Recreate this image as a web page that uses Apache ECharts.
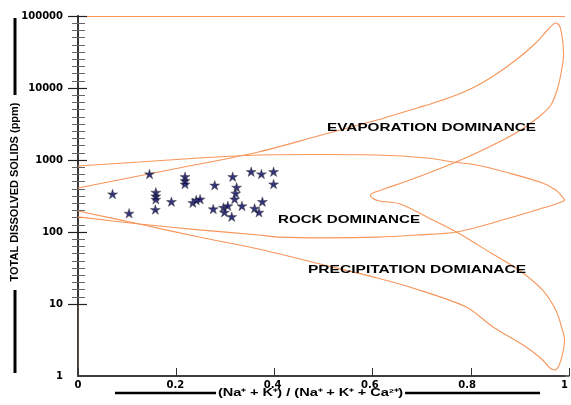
<!DOCTYPE html>
<html>
<head>
<meta charset="utf-8">
<script src="https://cdn.jsdelivr.net/npm/echarts@6/dist/echarts.min.js"></script>
<style>
html,body{margin:0;padding:0;background:#fff;}
#chart{width:571px;height:405px;}
</style>
</head>
<body>
<div id="chart"></div>
<script>
// ---- data ----
const xTickLabels = ['0', '0.2', '0.4', '0.6', '0.8', '1'];

// sample points: (Na+K)/(Na+K+Ca) and TDS (ppm)
const sampleRatio = [0.071, 0.105, 0.147, 0.160, 0.160, 0.160, 0.159, 0.220, 0.220, 0.220, 0.192, 0.236, 0.243, 0.251, 0.281, 0.278,
  0.318, 0.326, 0.324, 0.322, 0.299, 0.308, 0.301, 0.316, 0.337, 0.356, 0.377, 0.402, 0.402, 0.379, 0.363, 0.372];
const sampleTDS = [337, 182, 639, 356, 316, 284, 205, 586, 516, 464, 264, 255, 278, 286, 447, 209,
  586, 418, 345, 287, 219, 231, 188, 163, 230, 688, 639, 688, 464, 264, 213, 188];

// rock dominance envelope (lens)
const rockEnvelope = [
  [0, 826], [0.126, 937], [0.249, 1066], [0.371, 1172], [0.493, 1190], [0.615, 1172], [0.717, 1066],
  [0.772, 937], [0.819, 853], [0.886, 659], [0.955, 479], [0.982, 383], [0.996, 306], [1.0, 278],
  [0.988, 253], [0.955, 215], [0.886, 156], [0.778, 100], [0.697, 91], [0.615, 85], [0.513, 83],
  [0.411, 85], [0.371, 91], [0.249, 107], [0.126, 129], [0, 162]
];

// evaporation / precipitation boundary (boomerang)
const gibbsBoundary = [
  [0, 409], [0.187, 726], [0.371, 1292], [0.493, 2154], [0.615, 3594], [0.656, 4355], [0.697, 5275],
  [0.737, 6390], [0.778, 8000], [0.819, 10660], [0.860, 15650], [0.900, 24480], [0.941, 42170],
  [0.965, 63900], [0.982, 79950], [0.990, 72600], [0.996, 46400], [0.998, 28750], [0.994, 17780],
  [0.986, 10000], [0.972, 5805], [0.947, 3955], [0.900, 2371], [0.819, 1251], [0.752, 800], [0.682, 527],
  [0.635, 409], [0.611, 359], [0.601, 327], [0.605, 297], [0.619, 270], [0.662, 245], [0.717, 162],
  [0.778, 100], [0.849, 51], [0.906, 29.7], [0.955, 15.6], [0.982, 8.26], [0.994, 4.8], [1.0, 3.16],
  [0.996, 2.02], [0.988, 1.38], [0.980, 1.21], [0.970, 1.29], [0.955, 1.67], [0.921, 2.53], [0.853, 4.8],
  [0.798, 9.09], [0.682, 17.2], [0.615, 23], [0.493, 36.5], [0.371, 58], [0.249, 85], [0.126, 129], [0, 196]
];

// ---- rendering ----
const ORANGE = '#F7955A';
const LABEL_FONT = '"Liberation Sans", Arial, sans-serif';
const STAR = 'path://M50,0L61.2,34.6L97.6,34.5L68.1,55.9L79.4,90.5L50,69L20.6,90.5L31.9,55.9L2.4,34.5L38.8,34.6Z';
const TICK_MAJOR = '#222';
const TICK_MINOR = '#666';

const measureCtx = document.createElement('canvas').getContext('2d');
function textWidth(t, size) {
  measureCtx.font = 'bold ' + size + 'px ' + LABEL_FONT;
  return measureCtx.measureText(t).width;
}
function stretchedText(t, cx, cy, target, size) {
  const w = textWidth(t, size);
  return {
    type: 'text', x: cx, y: cy, scaleX: target / w, z: 10,
    style: {
      text: t, fill: '#000', fontSize: size, fontWeight: 'bold', fontFamily: LABEL_FONT,
      align: 'center', verticalAlign: 'middle', textAlign: 'center', textVerticalAlign: 'middle'
    }
  };
}

const chart = echarts.init(document.getElementById('chart'));

// tick-only linear axis (in decades, 10 .. 100000) giving evenly spaced ticks as in the reference
function tickAxis(inside, majorLen, minorLen) {
  return {
    type: 'value', gridIndex: 1, position: 'left', offset: 0, min: 1, max: 5, interval: 1,
    axisLine: { show: true, lineStyle: { color: '#333', width: 1.5 } }, axisLabel: { show: false },
    splitLine: { show: false },
    axisTick: { show: true, inside: inside, length: majorLen, lineStyle: { color: TICK_MAJOR, width: 1.2 } },
    minorTick: { show: true, splitNumber: 10, length: minorLen, lineStyle: { color: TICK_MINOR, width: 1 } }
  };
}

const option = {
  animation: false,
  grid: [
    { left: 78, top: 16, width: 491, height: 360 },
    { left: 78, top: 16, width: 491, height: 288 },
    { left: 78, top: 304, width: 491, height: 72 }
  ],
  xAxis: [
    {
      type: 'value', min: 0, max: 1, interval: 0.2, position: 'bottom',
      axisLine: { show: true, lineStyle: { color: '#333', width: 1.5 } },
      axisTick: { show: false },
      axisLabel: {
        color: '#000', fontFamily: 'DejaVu Sans', fontWeight: 'bold', fontSize: 10, margin: 4,
        formatter: function (v) { return xTickLabels[Math.round(v * 5)]; }
      },
      splitLine: { show: false }
    },
    {
      type: 'value', min: 0, max: 1, position: 'top',
      axisLine: { show: true, lineStyle: { color: ORANGE, width: 1 } },
      axisTick: { show: false }, axisLabel: { show: false }, splitLine: { show: false }
    },
    { type: 'value', gridIndex: 1, min: 0, max: 1, show: false },
    {
      type: 'value', gridIndex: 2, min: 0, max: 1, interval: 0.2, position: 'bottom',
      axisLine: { show: true, lineStyle: { color: '#333', width: 1.5 } },
      axisTick: { show: true, inside: true, length: 8, lineStyle: { color: '#333', width: 1 } },
      axisLabel: { show: false }, splitLine: { show: false }
    }
  ],
  yAxis: [
    {
      type: 'log', logBase: 10, min: 1, max: 100000, position: 'left',
      splitLine: { show: false },
      axisLine: { show: true, lineStyle: { color: '#333', width: 1.5 } },
      axisTick: { show: false },
      axisLabel: {
        color: '#000', fontFamily: 'DejaVu Sans', fontWeight: 'bold', fontSize: 10, margin: 15,
        formatter: function (v) { return String(Math.round(v)); }
      }
    },
    {
      type: 'value', min: 0, max: 1, position: 'right',
      axisLine: { show: true, lineStyle: { color: ORANGE, width: 1 } },
      axisTick: { show: false }, axisLabel: { show: false }, splitLine: { show: false }
    },
    tickAxis(false, 10, 6),
    tickAxis(true, 9, 7),
    {
      type: 'value', gridIndex: 2, min: 0, max: 1, position: 'left',
      axisLine: { show: true, lineStyle: { color: '#333', width: 1.5 } },
      axisTick: { show: false }, axisLabel: { show: false }, splitLine: { show: false }
    }
  ],
  series: [
    {
      name: 'Rock dominance', type: 'line', data: rockEnvelope, smooth: 0.3, symbol: 'none',
      lineStyle: { color: ORANGE, width: 1.1 }, z: 2
    },
    {
      name: 'Gibbs boundary', type: 'line', data: gibbsBoundary, smooth: 0.3, symbol: 'none',
      lineStyle: { color: ORANGE, width: 1.1 }, z: 2
    },
    {
      name: 'Samples', type: 'scatter', symbol: STAR, symbolSize: 10, symbolKeepAspect: true,
      data: sampleRatio.map(function (r, i) { return [r, sampleTDS[i]]; }),
      itemStyle: { color: '#000058', borderColor: '#444', borderWidth: 0.6 }, z: 5
    }
  ],
  graphic: [
    { type: 'line', shape: { x1: 15, y1: 18, x2: 15, y2: 95 }, style: { stroke: '#000', lineWidth: 3 } },
    { type: 'line', shape: { x1: 15, y1: 290, x2: 15, y2: 373 }, style: { stroke: '#000', lineWidth: 3 } },
    {
      type: 'text', x: 15, y: 192, rotation: Math.PI / 2,
      style: {
        text: 'TOTAL DISSOLVED SOLIDS (ppm)', fill: '#000', fontSize: 11, fontWeight: 'bold', fontFamily: LABEL_FONT,
        align: 'center', verticalAlign: 'middle', textAlign: 'center', textVerticalAlign: 'middle'
      }
    },
    { type: 'line', shape: { x1: 115, y1: 393, x2: 216, y2: 393 }, style: { stroke: '#000', lineWidth: 2.5 } },
    { type: 'line', shape: { x1: 405, y1: 393, x2: 540, y2: 393 }, style: { stroke: '#000', lineWidth: 2.5 } },
    stretchedText('(Na\u207A + K\u207A) / (Na\u207A + K\u207A + Ca\u00B2\u207A)', 310.5, 393, 185, 10),
    stretchedText('EVAPORATION DOMINANCE', 431.5, 128, 209, 11),
    stretchedText('ROCK DOMINANCE', 349, 220, 142, 11),
    stretchedText('PRECIPITATION DOMIANACE', 417, 270, 218, 11)
  ]
};
chart.setOption(option);
</script>
</body>
</html>
